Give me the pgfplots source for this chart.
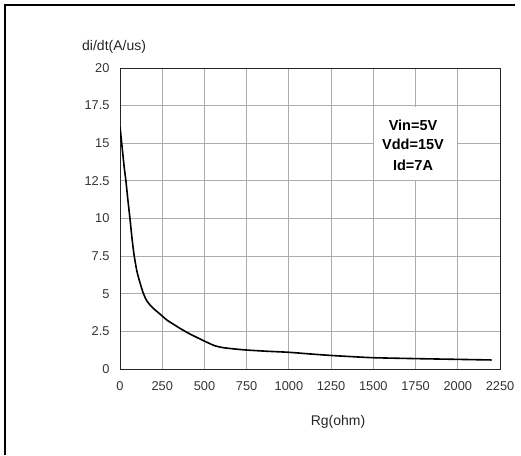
\documentclass[border=0pt]{standalone}
\usepackage{pgfplots}
\pgfplotsset{compat=1.18}
\usepackage{fontspec}
\setmainfont{Liberation Sans}

\begin{document}
\begin{tikzpicture}[x=1pt,y=1pt]
  \path[use as bounding box] (-120,-86) rectangle (401,369);
  \begin{axis}[
    at={(0,0)}, anchor=south west,
    width=380pt, height=301pt,
    scale only axis,
    xmin=0, xmax=2250,
    ymin=0, ymax=20,
    xtick={0,250,...,2250},
    ytick={0,2.5,...,20},
    yticklabels={0,2.5,5,7.5,10,12.5,15,17.5,20},
    grid=major,
    major grid style={gray!65, line width=0.8pt},
    axis line style={black!85, line width=0.8pt},
    tick style={draw=none},
    ticklabel style={font=\fontsize{12.8}{14}\selectfont, black!80},
    /pgf/number format/assume math mode=true,
    /pgf/number format/1000 sep={},
    xticklabel style={yshift=-9pt},
    yticklabel style={xshift=-7pt},
  ]
    \addplot[black, line width=1.6pt, smooth, tension=0.4] coordinates {
      (0,16.1) (12,14.8) (25,13.4) (35,12.5) (47,11.2) (59,10.0)
      (71,8.7) (83,7.6) (100,6.5) (118,5.75) (136,5.1) (155,4.6)
      (178,4.25) (205,3.95) (237,3.65) (278,3.25) (320,2.95) (355,2.7)
      (410,2.35) (473,2.0) (520,1.75) (560,1.55) (610,1.42) (680,1.33)
      (750,1.26) (870,1.18) (1000,1.11) (1125,1.0) (1250,0.9)
      (1375,0.82) (1500,0.75) (1750,0.69) (2000,0.64) (2200,0.6)
    };
    \fill[white] ([xshift=1pt,yshift=1pt]axis cs:1500,12.5) rectangle ([xshift=-1pt,yshift=-1pt]axis cs:2000,17.5);
    \node[font=\fontsize{14.5}{16}\selectfont\bfseries] at (axis cs:1735,16.2) {Vin=5V};
    \node[font=\fontsize{14.5}{16}\selectfont\bfseries] at (axis cs:1735,14.9) {Vdd=15V};
    \node[font=\fontsize{14.5}{16}\selectfont\bfseries] at (axis cs:1735,13.55) {Id=7A};
  \end{axis}
  \node[anchor=west, inner sep=0pt, font=\fontsize{14}{16}\selectfont, black!85] at (-38,322) {di/dt(A/us)};
  \node[font=\fontsize{14}{16}\selectfont, black!85] at (218,-53) {Rg(ohm)};
  \draw[black, line width=2pt] (-115,-86) -- (-115,364) -- (395,364);
\end{tikzpicture}
\end{document}
